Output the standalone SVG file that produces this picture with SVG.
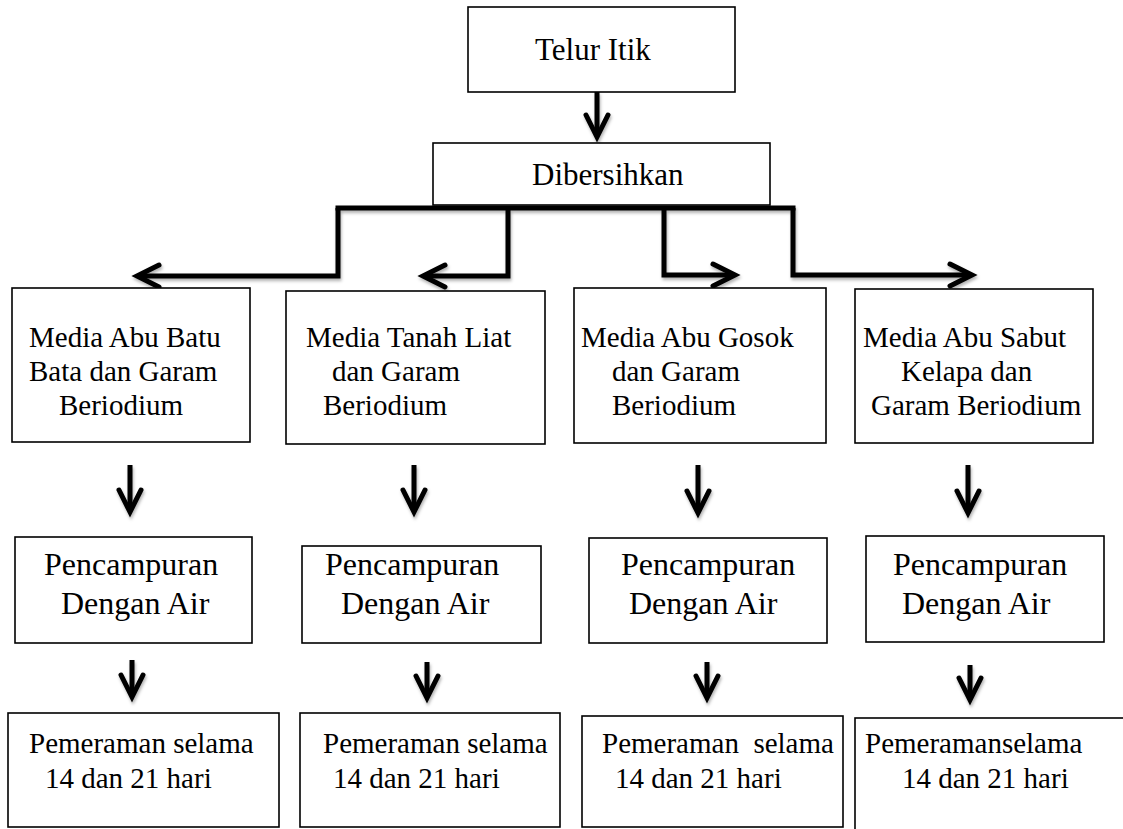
<svg xmlns="http://www.w3.org/2000/svg" width="1123" height="829" viewBox="0 0 1123 829">
<defs>
<style>
.box{fill:#fff;stroke:#000;stroke-width:1.6}
.t{font-family:"Liberation Serif","Times New Roman",serif;fill:#000}
.s29{font-size:29px}
.s31{font-size:31px}
.s32{font-size:32px}
.c{fill:none;stroke:#000;stroke-width:5;stroke-linejoin:miter}
</style>
<marker id="chev" markerUnits="userSpaceOnUse" viewBox="-26 -16 32 32" refX="0" refY="0" markerWidth="32" markerHeight="32" orient="auto" overflow="visible">
<path d="M-19,-11 L3,0 L-19,11" fill="none" stroke="#000" stroke-width="5" stroke-linejoin="miter" stroke-linecap="round"/>
</marker>
<filter id="sh" x="-10%" y="-10%" width="130%" height="140%">
<feDropShadow dx="1" dy="2.5" stdDeviation="1.5" flood-color="#000" flood-opacity="0.3"/>
</filter>
</defs>
<rect x="0" y="0" width="1123" height="829" fill="#fff"/>

<g id="connectors" filter="url(#sh)">
<path class="c" d="M597,92 L597,134" marker-end="url(#chev)"/>
<path class="c" d="M338,208 L793,208" stroke-linecap="square"/>
<path class="c" d="M338,208 L338,276 L140,276" marker-end="url(#chev)"/>
<path class="c" d="M508,208 L508,276 L426,276" marker-end="url(#chev)"/>
<path class="c" d="M664,208 L664,275 L732,275" marker-end="url(#chev)"/>
<path class="c" d="M793,208 L793,275 L969,275" marker-end="url(#chev)"/>
<path class="c" d="M130,465 L130,509" marker-end="url(#chev)"/>
<path class="c" d="M414,465 L414,509" marker-end="url(#chev)"/>
<path class="c" d="M698,465 L698,510" marker-end="url(#chev)"/>
<path class="c" d="M968,465 L968,510" marker-end="url(#chev)"/>
<path class="c" d="M132,660 L132,694" marker-end="url(#chev)"/>
<path class="c" d="M427,662 L427,695" marker-end="url(#chev)"/>
<path class="c" d="M707,662 L707,695" marker-end="url(#chev)"/>
<path class="c" d="M970,665 L970,697" marker-end="url(#chev)"/>
</g>

<g id="telur-itik">
<rect class="box" x="468" y="7" width="267" height="85"/>
<text class="t s31" x="535" y="60">Telur Itik</text>
</g>

<g id="dibersihkan">
<rect class="box" x="433" y="143" width="337" height="62"/>
<text class="t s31" x="532" y="185">Dibersihkan</text>
</g>

<g id="media-1">
<rect class="box" x="12" y="288" width="238" height="154"/>
<text class="t s29" x="29" y="347">Media Abu Batu</text>
<text class="t s29" x="29" y="381">Bata dan Garam</text>
<text class="t s29" x="59" y="415">Beriodium</text>
</g>

<g id="media-2">
<rect class="box" x="286" y="291" width="259" height="153"/>
<text class="t s29" x="306" y="347">Media Tanah Liat</text>
<text class="t s29" x="332" y="381">dan Garam</text>
<text class="t s29" x="323" y="415">Beriodium</text>
</g>

<g id="media-3">
<rect class="box" x="574" y="288" width="252" height="155"/>
<text class="t s29" x="581" y="347">Media Abu Gosok</text>
<text class="t s29" x="612" y="381">dan Garam</text>
<text class="t s29" x="612" y="415">Beriodium</text>
</g>

<g id="media-4">
<rect class="box" x="855" y="289" width="238" height="154"/>
<text class="t s29" x="863" y="347">Media Abu Sabut</text>
<text class="t s29" x="901" y="381">Kelapa dan</text>
<text class="t s29" x="871" y="415">Garam Beriodium</text>
</g>

<g id="campur-1">
<rect class="box" x="15" y="537" width="237" height="106"/>
<text class="t s32" x="44" y="575">Pencampuran</text>
<text class="t s32" x="61" y="614">Dengan Air</text>
</g>

<g id="campur-2">
<rect class="box" x="302" y="546" width="239" height="97"/>
<text class="t s32" x="325" y="575">Pencampuran</text>
<text class="t s32" x="341" y="614">Dengan Air</text>
</g>

<g id="campur-3">
<rect class="box" x="589" y="538" width="238" height="105"/>
<text class="t s32" x="621" y="575">Pencampuran</text>
<text class="t s32" x="629" y="614">Dengan Air</text>
</g>

<g id="campur-4">
<rect class="box" x="866" y="536" width="238" height="106"/>
<text class="t s32" x="893" y="575">Pencampuran</text>
<text class="t s32" x="902" y="614">Dengan Air</text>
</g>

<g id="peram-1">
<rect class="box" x="8" y="713" width="271" height="114"/>
<text class="t s29" x="29" y="753">Pemeraman selama</text>
<text class="t s29" x="45" y="788">14 dan 21 hari</text>
</g>

<g id="peram-2">
<rect class="box" x="300" y="713" width="260" height="114"/>
<text class="t s29" x="323" y="753">Pemeraman selama</text>
<text class="t s29" x="333" y="788">14 dan 21 hari</text>
</g>

<g id="peram-3">
<rect class="box" x="582" y="716" width="261" height="111"/>
<text class="t s29" x="602" y="753">Pemeraman&#160; selama</text>
<text class="t s29" x="615" y="788">14 dan 21 hari</text>
</g>

<g id="peram-4">
<rect class="box" x="855" y="718" width="290" height="130"/>
<text class="t s29" x="865" y="753">Pemeramanselama</text>
<text class="t s29" x="902" y="788">14 dan 21 hari</text>
</g>
</svg>
